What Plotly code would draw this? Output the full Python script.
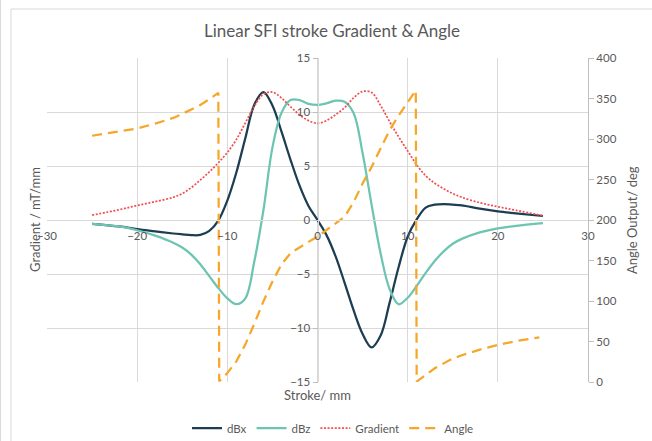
import plotly.graph_objects as go

# ---- data ----
stroke = [-25, -22, -20, -18, -16, -15, -14, -13, -12, -11, -10, -9, -8, -7, -6, -5, -4, -3, -2, -1, 0,
          1, 2, 3, 4, 5, 6, 7, 8, 9, 10, 11, 12, 13, 14, 15, 16, 18, 20, 22, 25]
dBx = [-0.35, -0.6, -0.85, -1.05, -1.25, -1.33, -1.4, -1.38, -1.0, -0.05, 1.8, 4.4, 7.6, 10.7, 11.85, 10.6,
       8.2, 5.6, 3.2, 1.3, 0.0, -1.4, -3.35, -5.8, -8.35, -10.55, -11.8, -10.7, -7.65, -4.35, -1.55, 0.05,
       1.15, 1.42, 1.48, 1.42, 1.35, 1.05, 0.8, 0.62, 0.37]
dBz = [-0.35, -0.6, -0.95, -1.45, -2.1, -2.55, -3.2, -4.1, -5.2, -6.3, -7.25, -7.8, -7.25, -3.8, 0.9, 6.7,
       9.9, 11.1, 11.1, 10.75, 10.65, 10.8, 11.05, 10.95, 9.9, 6.2, 1.4, -3.1, -6.4, -7.8, -7.2, -6.1,
       -4.9, -3.8, -2.9, -2.2, -1.75, -1.15, -0.77, -0.55, -0.3]
gradient = [0.45, 0.95, 1.35, 1.7, 2.1, 2.45, 3.0, 3.7, 4.45, 5.3, 6.25, 7.45, 9.0, 10.55, 11.65, 11.85,
            11.3, 10.5, 9.75, 9.2, 8.95, 9.2, 9.75, 10.4, 11.3, 11.9, 11.8, 10.6, 9.1, 7.7, 6.4, 5.1,
            4.1, 3.4, 2.9, 2.45, 2.1, 1.6, 1.23, 0.9, 0.4]

stroke_angle = [-25, -22, -20, -18, -16, -15, -14, -13, -12, -11, -10.9, -10, -9, -8, -7, -6, -5, -4, -3,
                -2, -1, 0, 1, 2, 3, 4, 5, 6, 7, 8, 9, 10, 10.9, 11, 12, 13, 14, 15, 16, 18, 20, 22, 24.6]
angle = [304, 309, 313, 319, 326, 331, 336, 342, 349, 357, 1, 11, 25.5, 46.5, 72, 99.5, 124, 145, 159,
         166.5, 173, 179.5, 188, 196, 204, 222, 245, 265.5, 289, 311, 329, 345.5, 360, 0.5, 8.6, 17, 23,
         29, 33, 40, 45.7, 50.5, 55]

x_ticks = [-30, -20, -10, 0, 10, 20, 30]
y_ticks = [-15, -10, -5, 0, 5, 10, 15]
y2_ticks = [0, 50, 100, 150, 200, 250, 300, 350, 400]

TXT = "#595959"
GRID = "#D9D9D9"
FONT = "Lato"

fig = go.Figure()
fig.add_trace(go.Scatter(x=stroke, y=dBx, name="dBx", mode="lines", line_shape="spline",
                         line=dict(color="#1C3D52", width=2.25)))
fig.add_trace(go.Scatter(x=stroke, y=dBz, name="dBz", mode="lines", line_shape="spline",
                         line=dict(color="#6DC5B1", width=2.25)))
fig.add_trace(go.Scatter(x=stroke, y=gradient, name="Gradient", mode="lines", line_shape="spline",
                         line=dict(color="#F0504F", width=1.75, dash="2px,1.6px")))
fig.add_trace(go.Scatter(x=stroke_angle, y=angle, name="Angle", mode="lines", yaxis="y2",
                         line=dict(color="#F5A72A", width=2.25, dash="10px,6px")))

L, R, T, B = 47, 64, 58, 59
W, H = 652, 441
pw, ph = W - L - R, H - T - B


def px(x):
    return (x - L) / pw


def py(y):
    return (H - B - y) / ph


fig.update_layout(
    width=W, height=H,
    margin=dict(l=L, r=R, t=T, b=B, autoexpand=False),
    paper_bgcolor="white", plot_bgcolor="white",
    font=dict(family=FONT, color=TXT, size=12),
    title=dict(text="Linear SFI stroke Gradient & Angle", x=332 / W, xanchor="center",
               xref="container", yref="container", y=1 - 31 / H, yanchor="middle",
               font=dict(family=FONT, size=17, color=TXT)),
    xaxis=dict(range=[-30, 30], tickvals=x_ticks, showgrid=True, gridcolor=GRID, gridwidth=1,
               zeroline=False, showline=True, linecolor=GRID, ticks="",
               anchor="free", position=0.5, tickfont=dict(size=11.5, color=TXT),
               ticklabelstandoff=5),
    yaxis=dict(range=[-15, 15], tickvals=y_ticks, showgrid=True, gridcolor=GRID, gridwidth=1,
               zeroline=False, showline=True, linecolor=GRID, ticks="outside", ticklen=5,
               tickcolor="#BFBFBF", anchor="free", position=0.5, tickfont=dict(size=11.5, color=TXT)),
    yaxis2=dict(range=[0, 400], tickvals=y2_ticks, overlaying="y", side="right", anchor="free",
                position=1, showgrid=False, zeroline=False, showline=True, linecolor="#BFBFBF",
                ticks="outside", ticklen=5, tickcolor="#BFBFBF", tickfont=dict(size=11.5, color=TXT)),
    legend=dict(orientation="h", x=px(333), xanchor="center", y=py(428), yanchor="middle",
                font=dict(size=11.5, color=TXT), bgcolor="rgba(0,0,0,0)"),
    showlegend=True,
)

fig.add_annotation(text="Stroke/ mm", x=px(317), y=py(395), xref="paper", yref="paper",
                   showarrow=False, xanchor="center", yanchor="middle", font=dict(size=13, color=TXT))
fig.add_annotation(text="Gradient / mT/mm", x=px(35), y=0.5, xref="paper", yref="paper", textangle=-90,
                   showarrow=False, xanchor="center", yanchor="middle", font=dict(size=13, color=TXT))
fig.add_annotation(text="Angle Output/ deg", x=px(632), y=0.5, xref="paper", yref="paper", textangle=-90,
                   showarrow=False, xanchor="center", yanchor="middle", font=dict(size=13, color=TXT))

# chart-area frame
fig.add_shape(type="rect", xref="paper", yref="paper", x0=px(11), y0=py(460), x1=px(670), y1=py(9),
              line=dict(color=GRID, width=1), layer="below")
fig.add_shape(type="line", xref="paper", yref="paper", x0=px(0.5), y0=py(460), x1=px(0.5), y1=py(-10),
              line=dict(color=GRID, width=1), layer="below")

fig.write_html("out.html", config={"displayModeBar": False},
               post_script="document.body.style.margin='0';document.body.style.overflow='hidden';")
